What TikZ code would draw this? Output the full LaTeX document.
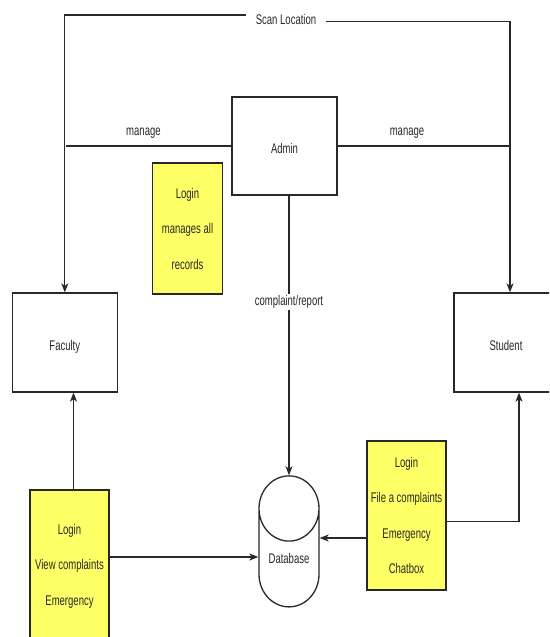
\documentclass[tikz,border=0pt]{standalone}
\usepackage{fontspec}
\setmainfont{Liberation Sans}[FakeStretch=0.68]
\usetikzlibrary{arrows.meta,shapes.geometric}
\definecolor{ylw}{RGB}{255,255,102}
\definecolor{ink}{RGB}{40,40,40}
\begin{document}
\begin{tikzpicture}[x=1pt,y=-1pt,
  every node/.style={font=\fontsize{14}{16}\selectfont, text=ink},
  ln/.style={draw=ink, line width=1.3pt},
  arr/.style={ln, -{Stealth[length=9pt,width=7pt,inset=2.5pt]}},
  box/.style={draw=ink, line width=1.3pt, fill=white, inner sep=0pt},
  wbox/.style={box, text height=18pt, text depth=3pt},
  ybox/.style={box, fill=ylw, align=center, font=\fontsize{14}{35.5}\selectfont},
  lbl/.style={fill=white, inner sep=1.5pt}]
\clip (0,0) rectangle (549,637);
\fill[white] (0,0) rectangle (549,637);
% helper coordinates
\coordinate (h15) at (0,15);
\coordinate (h22) at (0,21.7);
\coordinate (h538) at (0,538);
\coordinate (h557) at (0,557);
\coordinate (h521) at (0,521.7);
\coordinate (ml) at (65.5,146);
\coordinate (mr) at (511,146);
% nodes
\node[wbox, minimum width=105pt, minimum height=98pt] (admin) at (284.5,146) {Admin};
\node[ybox, minimum width=70pt, minimum height=131pt] (yb1) at (187.5,228.5) {Login\\manages all\\records};
\node[wbox, minimum width=105pt, minimum height=99pt] (fac) at (64.8,342.5) {Faculty};
\node[wbox, minimum width=104pt, minimum height=99pt] (stu) at (506,342.5) {Student};
\node[ybox, minimum width=79pt, minimum height=152pt] (yb2) at (69.5,566) {Login\\View complaints\\Emergency};
\node[ybox, minimum width=79pt, minimum height=149pt] (yb3) at (406.5,515.5) {Login\\File a complaints\\Emergency\\Chatbox};
\node[box, cylinder, shape border rotate=90, aspect=1.6, minimum width=60pt, minimum height=131pt] (db) at (289,558) {Database};
\node[inner xsep=10pt, inner ysep=2pt] (scan) at (286,19) {Scan Location};
% connectors
\draw[arr] (scan.west |- h15) -| (fac.north);
\draw[arr] (scan.east |- h22) -| ([xshift=4pt]stu.north);
\draw[ln] (admin.west) -- (ml) node[pos=0.53, yshift=13pt] {manage};
\draw[ln] (admin.east) -- (mr) node[pos=0.40, yshift=13pt] {manage};
\draw[arr] (admin.south -| db.top) -- (db.top) node[lbl, pos=0.38] {complaint/report};
\draw[arr] ([xshift=4pt]yb2.north) -- ([xshift=8.7pt]fac.south);
\draw[arr] (yb2.east |- h557) -- (db.west |- h557);
\draw[arr] (yb3.west |- h538) -- (db.east |- h538);
\draw[arr] (yb3.east |- h521) -| ([xshift=13pt]stu.south);
\end{tikzpicture}
\end{document}
